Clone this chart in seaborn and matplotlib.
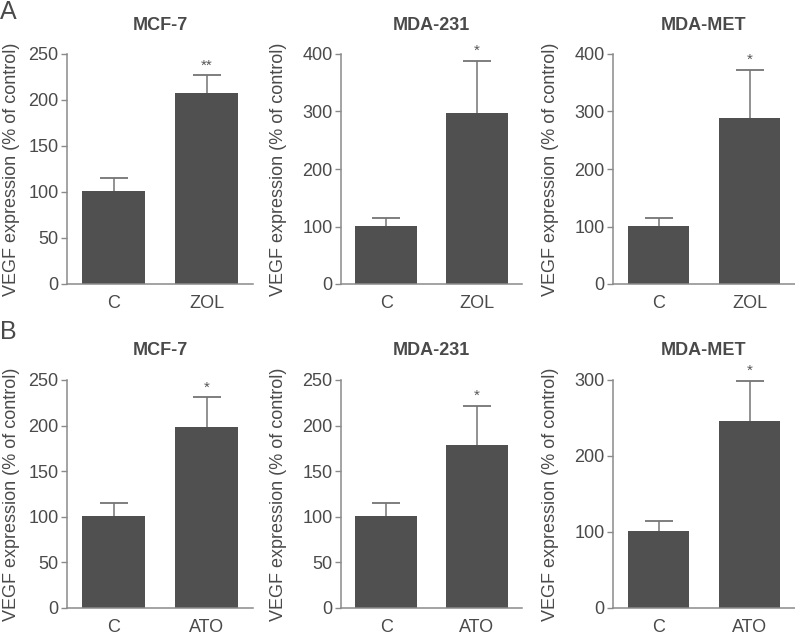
import matplotlib
matplotlib.use("Agg")
import matplotlib.pyplot as plt
import seaborn as sns
import pandas as pd

sns.set_theme(style="ticks")
plt.rcParams['font.family'] = ['Liberation Sans', 'DejaVu Sans']

# ---- data ----
cell_lines = ["MCF-7", "MDA-231", "MDA-MET"]
groups_A = ["C", "ZOL"]
groups_B = ["C", "ATO"]
means_A = [[101, 208], [101, 298], [101, 289]]
errs_A = [[14, 19], [13, 90], [13, 84]]
stars_A = ["**", "*", "*"]
means_B = [[101, 198], [101, 179], [101, 246]]
errs_B = [[14, 33], [14, 43], [14, 53]]
stars_B = ["*", "*", "*"]
ymax_A = [250, 400, 400]
ymax_B = [250, 250, 300]
yticks_A = [[0, 50, 100, 150, 200, 250], [0, 100, 200, 300, 400], [0, 100, 200, 300, 400]]
yticks_B = [[0, 50, 100, 150, 200, 250], [0, 50, 100, 150, 200, 250], [0, 100, 200, 300]]
ylabel = "VEGF expression (% of control)"

W, H = 795, 639
fig = plt.figure(figsize=(W / 100, H / 100), dpi=100)

bar_color = "#505050"
axis_color = "#8a8a8a"
text_color = "#4a4a4a"

x_px = [(67, 253), (341, 522), (613, 795)]
label_x_px = [20, 287, 559]
rows = [
    (54, 284, 17, groups_A, means_A, errs_A, stars_A, ymax_A, yticks_A),
    (380, 608, 18, groups_B, means_B, errs_B, stars_B, ymax_B, yticks_B),
]

for (top, bot, tpad, groups, means, errs, stars, ymaxs, ytks) in rows:
    for i in range(3):
        x0, x1 = x_px[i]
        ax = fig.add_axes([x0 / W, 1 - bot / H, (x1 - x0) / W, (bot - top) / H])
        df = pd.DataFrame({"group": groups, "value": means[i]})
        sns.barplot(data=df, x="group", y="value", color=bar_color, width=0.68,
                    saturation=1, ax=ax, edgecolor=bar_color, linewidth=0, zorder=2)
        _, caps, _ = ax.errorbar([0, 1], means[i], yerr=[[0, 0], errs[i]], fmt="none",
                                 ecolor="#747474", elinewidth=1.1, capsize=10,
                                 capthick=1.3, zorder=1)
        caps[0].set_visible(False)
        ax.text(1, means[i][1] + errs[i][1] + ymaxs[i] * 0.012, stars[i],
                ha="center", va="bottom", fontsize=11, color="#555555")
        ax.set_xlim(-0.5, 1.5)
        ax.set_ylim(0, ymaxs[i])
        ax.set_yticks(ytks[i])
        ax.set_xlabel("")
        ax.set_ylabel(ylabel, fontsize=13, color=text_color)
        ax.yaxis.set_label_coords((label_x_px[i] - x0) / (x1 - x0), 0.5)
        ax.set_title(cell_lines[i], fontsize=13, fontweight="bold", color=text_color, pad=tpad)
        for s in ["top", "right"]:
            ax.spines[s].set_visible(False)
        for s in ["left", "bottom"]:
            ax.spines[s].set_color(axis_color)
            ax.spines[s].set_linewidth(1.1)
        ax.tick_params(axis="y", length=4, width=1, color=axis_color, labelsize=13,
                       labelcolor=text_color, pad=2)
        ax.tick_params(axis="x", length=0, labelsize=13, labelcolor=text_color, pad=8)
        ax.set_facecolor("white")

fig.text(0 / W, 1 - 0 / H, "A", fontsize=18, color=text_color, ha="left", va="top")
fig.text(0 / W, 1 - 320 / H, "B", fontsize=18, color=text_color, ha="left", va="top")

fig.savefig("out.png", dpi=100, facecolor="white")
